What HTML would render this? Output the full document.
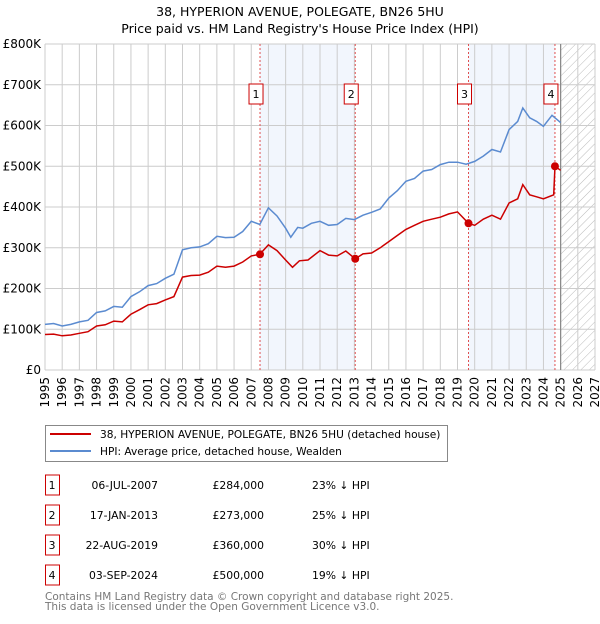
<!DOCTYPE html>
<html><head><meta charset="utf-8"><style>
body{margin:0;background:#fff;font-family:"DejaVu Sans","Liberation Sans",sans-serif;}
svg text{font-family:"DejaVu Sans","Liberation Sans",sans-serif;}
</style></head><body>
<svg id="chart" width="600" height="620" xmlns="http://www.w3.org/2000/svg">
<defs><pattern id="hatch" width="6" height="6" patternUnits="userSpaceOnUse" patternTransform="rotate(45)"><line x1="0" y1="0" x2="0" y2="6" stroke="#bbb" stroke-width="1"/></pattern></defs>
<text x="300" y="16" text-anchor="middle" font-size="12.5">38, HYPERION AVENUE, POLEGATE, BN26 5HU</text>
<text x="300" y="33" text-anchor="middle" font-size="12.5">Price paid vs. HM Land Registry's House Price Index (HPI)</text>
<g id="plot"></g>
<g id="legend">
<rect x="45.5" y="425.5" width="402" height="36" fill="#fff" stroke="#888"/>
<line x1="50" y1="434" x2="91" y2="434" stroke="#cc0000" stroke-width="2"/>
<text x="100" y="438" font-size="10.6">38, HYPERION AVENUE, POLEGATE, BN26 5HU (detached house)</text>
<line x1="50" y1="451" x2="91" y2="451" stroke="#5b8bd0" stroke-width="2"/>
<text x="100" y="455" font-size="10.6">HPI: Average price, detached house, Wealden</text>
</g>
<g id="table" font-size="10.8"></g>
<text x="45" y="600" font-size="10.5" fill="#777">Contains HM Land Registry data © Crown copyright and database right 2025.</text>
<text x="45" y="610" font-size="10.5" fill="#777">This data is licensed under the Open Government Licence v3.0.</text>
</svg>
<script>
const hpiYears=[1995,1995.5,1996,1996.5,1997,1997.5,1998,1998.5,1999,1999.5,2000,2000.5,2001,2001.5,2002,2002.5,2003,2003.5,2004,2004.5,2005,2005.5,2006,2006.5,2007,2007.5,2008,2008.5,2009,2009.3,2009.7,2010,2010.5,2011,2011.5,2012,2012.5,2013,2013.5,2014,2014.5,2015,2015.5,2016,2016.5,2017,2017.5,2018,2018.5,2019,2019.5,2020,2020.5,2021,2021.5,2022,2022.5,2022.8,2023.2,2023.6,2024,2024.5,2025];
const hpiValues=[112,114,108,112,118,122,141,145,156,154,180,192,207,212,225,235,295,300,302,310,328,325,326,340,365,357,398,378,348,326,350,348,360,365,355,357,372,369,380,387,395,422,440,463,470,488,492,504,510,510,505,512,525,541,535,590,610,643,619,610,598,625,607];
const redYears=[1995,1995.5,1996,1996.5,1997,1997.5,1998,1998.5,1999,1999.5,2000,2000.5,2001,2001.5,2002,2002.5,2003,2003.5,2004,2004.5,2005,2005.5,2006,2006.5,2007,2007.5,2008,2008.5,2009,2009.4,2009.8,2010.3,2011,2011.5,2012,2012.5,2013.05,2013.5,2014,2014.5,2015,2015.5,2016,2016.5,2017,2017.5,2018,2018.5,2019,2019.64,2020,2020.5,2021,2021.5,2022,2022.5,2022.8,2023.2,2023.6,2024,2024.6,2024.67,2025];
const redValues=[87,88,84,86,90,94,108,111,120,118,137,148,160,163,172,180,228,232,233,240,255,252,255,265,280,284,307,293,270,252,268,270,293,282,280,292,273,285,287,300,315,330,345,355,365,370,375,383,388,360,355,370,380,370,410,420,455,430,425,420,430,500,490];
const sales=[{n:"1",year:2007.51,value:284,date:"06-JUL-2007",price:"£284,000",pct:"23% ↓ HPI"},{n:"2",year:2013.05,value:273,date:"17-JAN-2013",price:"£273,000",pct:"25% ↓ HPI"},{n:"3",year:2019.64,value:360,date:"22-AUG-2019",price:"£360,000",pct:"30% ↓ HPI"},{n:"4",year:2024.67,value:500,date:"03-SEP-2024",price:"£500,000",pct:"19% ↓ HPI"}];
const yTicks=[0,100,200,300,400,500,600,700,800];
const yTickLabels=["£0","£100K","£200K","£300K","£400K","£500K","£600K","£700K","£800K"];
const xTicks=[];for(let y=1995;y<=2027;y++)xTicks.push(y);
const X0=45,X1=595,Y0=370,Y1=44;
const x=v=>X0+(v-1995)/(2027-1995)*(X1-X0);
const y=v=>Y0-v/800*(Y0-Y1);
const NS="http://www.w3.org/2000/svg";
const plot=document.getElementById('plot');
function mk(tag,at,parent){const e=document.createElementNS(NS,tag);for(const k in at)e.setAttribute(k,at[k]);(parent||plot).appendChild(e);return e;}
let e;
e=mk('rect',{x:x(sales[0].year),y:Y1,width:x(sales[1].year)-x(sales[0].year),height:Y0-Y1,fill:'#f2f6fd'});


e=mk('rect',{x:x(sales[2].year),y:Y1,width:x(sales[3].year)-x(sales[2].year),height:Y0-Y1,fill:'#f2f6fd'});


e=mk('rect',{x:x(2025),y:Y1,width:x(2027)-x(2025),height:Y0-Y1,fill:'url(#hatch)'});


xTicks.forEach(t=>{const l=mk('line',{x1:x(t),x2:x(t),y1:Y1,y2:Y0,stroke:'#ccc'});


const tx=mk('text',{x:0,y:0,'font-size':12,'text-anchor':'end',transform:`translate(${x(t)+4},${Y0+7}) rotate(-90)`});tx.textContent=t;

});
yTicks.forEach((t,i)=>{const l=mk('line',{x1:X0,x2:X1,y1:y(t),y2:y(t),stroke:'#ccc'});


const tx=mk('text',{x:X0-4,y:y(t)+4,'font-size':12,'text-anchor':'end'});tx.textContent=yTickLabels[i];

});
e=mk('line',{x1:x(2025),x2:x(2025),y1:Y1,y2:Y0,stroke:'#888','stroke-width':1.2});


sales.forEach(s=>{const l=mk('line',{x1:x(s.year),x2:x(s.year),y1:Y1,y2:Y0,stroke:'#e05050','stroke-dasharray':'2,2'});


const bx=mk('rect',{x:x(s.year)-11,y:84,width:14,height:20,fill:'#fff',stroke:'#cc0000'});


const tx=mk('text',{x:x(s.year)-4,y:98,'font-size':11,'text-anchor':'middle'});tx.textContent=s.n;

});
function path(xs,vs){return xs.map((v,i)=>(i?'L':'M')+x(v).toFixed(1)+','+y(vs[i]).toFixed(1)).join('');}
e=mk('path',{d:path(hpiYears,hpiValues),fill:'none',stroke:'#5b8bd0','stroke-width':1.5});


e=mk('path',{d:path(redYears,redValues),fill:'none',stroke:'#cc0000','stroke-width':1.5});


sales.forEach(s=>{const c=mk('circle',{cx:x(s.year),cy:y(s.value),r:4,fill:'#cc0000'});

});
const tbl=document.getElementById('table');
sales.forEach((s,i)=>{const cy=485+i*30;
const r=mk('rect',{x:45.5,y:cy-10,width:14,height:20,fill:'#fff',stroke:'#cc0000'},tbl);


const a=[[52,s.n,'middle'],[158,s.date,'end'],[264,s.price,'end'],[312,s.pct,'start']];
a.forEach(([tx,str,anc])=>{const t=mk('text',{x:tx,y:cy+4,'text-anchor':anc},tbl);t.textContent=str;

});});
</script>
</body></html>
